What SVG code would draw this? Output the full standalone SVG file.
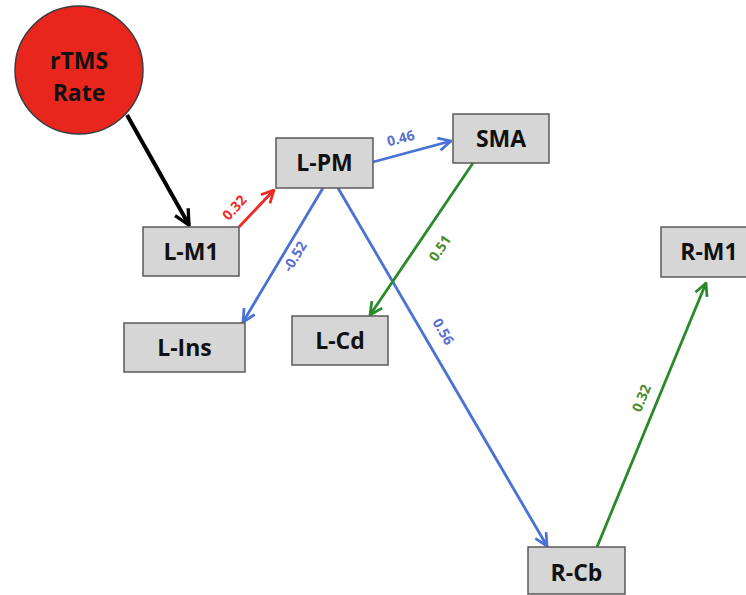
<svg xmlns="http://www.w3.org/2000/svg" width="746" height="595" viewBox="0 0 746 595">
<defs>
<style>
.box{fill:#d6d6d6;stroke:#5a5a5a;stroke-width:1.5}
.nt{font-family:"Open Sans","Liberation Sans",sans-serif;font-weight:bold;font-size:23px;fill:#111;text-anchor:middle}
.lb{font-family:"Open Sans","Liberation Sans",sans-serif;font-weight:bold;font-size:14px;text-anchor:middle}
.e{fill:none;stroke-width:2.8}
</style>
<marker id="mkb" viewBox="0 0 12 12" refX="11" refY="6" markerWidth="18" markerHeight="18" markerUnits="userSpaceOnUse" orient="auto">
<path d="M1,1 L11,6 L1,11" fill="none" stroke="#000" stroke-width="2.2"/>
</marker>
<marker id="mr" viewBox="0 0 12 12" refX="11" refY="6" markerWidth="15" markerHeight="15" markerUnits="userSpaceOnUse" orient="auto">
<path d="M1,1 L11,6 L1,11" fill="none" stroke="#ee2a24" stroke-width="2.2"/>
</marker>
<marker id="mbl" viewBox="0 0 12 12" refX="11" refY="6" markerWidth="15" markerHeight="15" markerUnits="userSpaceOnUse" orient="auto">
<path d="M1,1 L11,6 L1,11" fill="none" stroke="#4a72d4" stroke-width="2.2"/>
</marker>
<marker id="mg" viewBox="0 0 12 12" refX="11" refY="6" markerWidth="15" markerHeight="15" markerUnits="userSpaceOnUse" orient="auto">
<path d="M1,1 L11,6 L1,11" fill="none" stroke="#2a8a2a" stroke-width="2.2"/>
</marker>
</defs>
<rect width="746" height="595" fill="#fff"/>
<g id="connectors">
<line x1="127" y1="115" x2="189" y2="225" stroke="#000" stroke-width="4" marker-end="url(#mkb)"/>
<line class="e" x1="239" y1="227" x2="274" y2="190" stroke="#ee2a24" marker-end="url(#mr)"/>
<line class="e" x1="373" y1="162" x2="451" y2="141" stroke="#4a72d4" marker-end="url(#mbl)"/>
<line class="e" x1="323" y1="188" x2="243" y2="322" stroke="#4a72d4" marker-end="url(#mbl)"/>
<line class="e" x1="338" y1="188" x2="547" y2="546" stroke="#4a72d4" marker-end="url(#mbl)"/>
<line class="e" x1="473" y1="163" x2="370" y2="315" stroke="#2a8a2a" marker-end="url(#mg)"/>
<line class="e" x1="597" y1="547" x2="706" y2="283" stroke="#2a8a2a" marker-end="url(#mg)"/>
<text class="lb" fill="#ee2a24" transform="translate(238,211) rotate(-47)">0.32</text>
<text class="lb" fill="#5a6fd0" transform="translate(402,143) rotate(-15)">0.46</text>
<text class="lb" fill="#5a6fd0" transform="translate(299,259) rotate(-59)">-0.52</text>
<text class="lb" fill="#4a8a2a" transform="translate(444,251) rotate(-56)">0.51</text>
<text class="lb" fill="#5a6fd0" transform="translate(439,334) rotate(60)">0.56</text>
<text class="lb" fill="#4a8a2a" transform="translate(646,400) rotate(-68)">0.32</text>
</g>
<g id="rtms">
<circle cx="79" cy="70" r="64" fill="#e8261e" stroke="#3a3a3a" stroke-width="1.5"/>
<text class="nt" x="79" y="69">rTMS</text>
<text class="nt" x="79" y="101">Rate</text>
</g>
<g id="lm1"><rect class="box" x="143" y="227" width="96" height="49"/><text class="nt" x="191" y="260">L-M1</text></g>
<g id="lpm"><rect class="box" x="276" y="138" width="97" height="50"/><text class="nt" x="324.500" y="171">L-PM</text></g>
<g id="sma"><rect class="box" x="453" y="114" width="96" height="49"/><text class="nt" x="501" y="147">SMA</text></g>
<g id="lins"><rect class="box" x="124" y="323" width="121" height="49"/><text class="nt" x="184.500" y="356">L-Ins</text></g>
<g id="lcd"><rect class="box" x="292" y="316" width="96" height="49"/><text class="nt" x="340" y="349">L-Cd</text></g>
<g id="rm1"><rect class="box" x="661" y="227" width="96" height="50"/><text class="nt" x="709" y="260">R-M1</text></g>
<g id="rcb"><rect class="box" x="528" y="547" width="97" height="47"/><text class="nt" x="576.500" y="581">R-Cb</text></g>
</svg>
